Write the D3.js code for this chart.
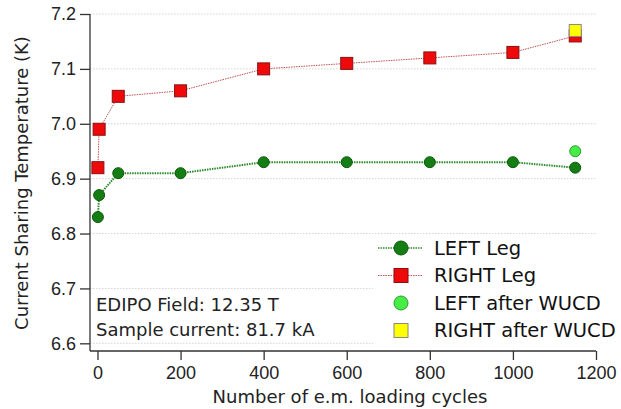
<!DOCTYPE html>
<html lang="en">
<head>
  <meta charset="UTF-8" />
  <title>Current Sharing Temperature vs loading cycles</title>
  <style>
    html, body { margin: 0; padding: 0; background: #fff; }
    svg { display: block; font-family: "DejaVu Sans", sans-serif; }
    .axis path, .axis line { stroke: #333; stroke-width: 1.3px; }
    .axis text { font-size: 18px; fill: #222; }
    .grid line { stroke: #d4d4d4; stroke-dasharray: 1.5 1.5; stroke-width: 1px; }
    .label { font-size: 18px; fill: #222; }
    .legend text { font-size: 19.5px; fill: #111; dominant-baseline: middle; }
  </style>
</head>
<body>
  <svg width="621" height="409"></svg>
  <script src="https://d3js.org/d3.v7.min.js"></script>
  <script>
    const cycles = [1, 4, 50, 200, 400, 600, 800, 1000, 1150];
    const leftLeg = [6.83, 6.87, 6.91, 6.91, 6.93, 6.93, 6.93, 6.93, 6.92];
    const rightLeg = [6.92, 6.99, 7.05, 7.06, 7.10, 7.11, 7.12, 7.13, 7.16];
    const afterCycles = [1150];
    const leftAfter = [6.95];
    const rightAfter = [7.17];
    const xTicks = [0, 200, 400, 600, 800, 1000, 1200];
    const yTicks = [6.6, 6.7, 6.8, 6.9, 7.0, 7.1, 7.2];
    const legendLabels = ["LEFT Leg", "RIGHT Leg", "LEFT after WUCD", "RIGHT after WUCD"];
    const notes = ["EDIPO Field: 12.35 T", "Sample current: 81.7 kA"];

    const svg = d3.select("svg");
    const plotL = 90, plotR = 596, plotT = 14, plotB = 351;

    const x = d3.scaleLinear().domain([-18, 1200]).range([plotL, plotR]);
    const y = d3.scaleLinear().domain([6.586, 7.2]).range([plotB, plotT]);

    // gridlines
    svg.append("g").attr("class", "grid")
      .selectAll("line").data(yTicks).join("line")
      .attr("x1", plotL).attr("x2", plotR)
      .attr("y1", d => y(d)).attr("y2", d => y(d));

    // axes
    svg.append("g").attr("class", "axis")
      .attr("transform", `translate(0,${plotB})`)
      .call(d3.axisBottom(x).tickValues(xTicks).tickFormat(d3.format("d")).tickSize(9).tickPadding(6).tickSizeOuter(0))
      .call(g => g.select(".domain").attr("d", `M${plotL},0H${plotR}`));

    svg.append("g").attr("class", "axis")
      .attr("transform", `translate(${plotL},0)`)
      .call(d3.axisLeft(y).tickValues(yTicks).tickFormat(d3.format(".1f")).tickSize(10).tickPadding(4).tickSizeOuter(0))
      .call(g => g.select(".domain").attr("d", `M0,${plotT}V${plotB}`));

    svg.append("text").attr("class", "label")
      .attr("transform", `translate(28,183) rotate(-90)`)
      .attr("text-anchor", "middle")
      .text("Current Sharing Temperature (K)");

    svg.append("text").attr("class", "label")
      .attr("x", 350).attr("y", 403)
      .attr("text-anchor", "middle")
      .text("Number of e.m. loading cycles");

    // notes
    svg.append("g").selectAll("text").data(notes).join("text")
      .attr("class", "label")
      .attr("x", 96).attr("y", (d, i) => 311 + i * 25)
      .text(d => d);

    const line = d3.line().x(d => x(d[0])).y(d => y(d[1]));
    const leftPts = cycles.map((c, i) => [c, leftLeg[i]]);
    const rightPts = cycles.map((c, i) => [c, rightLeg[i]]);

    svg.append("path").datum(rightPts)
      .attr("d", line).attr("fill", "none")
      .attr("stroke", "#c05050").attr("stroke-width", 1)
      .attr("stroke-dasharray", "1.5 1");
    svg.append("path").datum(leftPts)
      .attr("d", line).attr("fill", "none")
      .attr("stroke", "#2a8a2a").attr("stroke-width", 2)
      .attr("stroke-dasharray", "1.5 1");

    const sq = 12;
    svg.append("g").selectAll("rect").data(rightPts).join("rect")
      .attr("x", d => x(d[0]) - sq / 2).attr("y", d => y(d[1]) - sq / 2)
      .attr("width", sq).attr("height", sq)
      .attr("fill", "#ee0a0a").attr("stroke", "#8a1010").attr("stroke-width", 1);

    svg.append("g").selectAll("circle").data(leftPts).join("circle")
      .attr("cx", d => x(d[0])).attr("cy", d => y(d[1])).attr("r", 5.5)
      .attr("fill", "#147d14").attr("stroke", "#0b5a0b").attr("stroke-width", 1);

    svg.append("g").selectAll("circle").data(afterCycles.map((c, i) => [c, leftAfter[i]])).join("circle")
      .attr("cx", d => x(d[0])).attr("cy", d => y(d[1])).attr("r", 5.5)
      .attr("fill", "#44ee44").attr("stroke", "#339933").attr("stroke-width", 1);

    svg.append("g").selectAll("rect").data(afterCycles.map((c, i) => [c, rightAfter[i]])).join("rect")
      .attr("x", d => x(d[0]) - sq / 2).attr("y", d => y(d[1]) - sq / 2)
      .attr("width", sq).attr("height", sq)
      .attr("fill", "#ffff00").attr("stroke", "#888").attr("stroke-width", 1);

    // legend
    const lg = svg.append("g").attr("class", "legend");
    lg.append("rect").attr("x", 373).attr("y", 236).attr("width", 248).attr("height", 109).attr("fill", "#fff");
    const rowY = i => 248 + i * 27.5;
    const lx = 401;
    lg.append("line").attr("x1", 378).attr("x2", 423).attr("y1", rowY(0)).attr("y2", rowY(0))
      .attr("stroke", "#2a8a2a").attr("stroke-width", 1.5).attr("stroke-dasharray", "1.5 1");
    lg.append("line").attr("x1", 378).attr("x2", 423).attr("y1", rowY(1)).attr("y2", rowY(1))
      .attr("stroke", "#c05050").attr("stroke-width", 1).attr("stroke-dasharray", "1.5 1");
    lg.append("circle").attr("cx", lx).attr("cy", rowY(0)).attr("r", 7)
      .attr("fill", "#147d14").attr("stroke", "#0b5a0b");
    lg.append("rect").attr("x", lx - 7).attr("y", rowY(1) - 7).attr("width", 14).attr("height", 14)
      .attr("fill", "#ee0a0a").attr("stroke", "#8a1010");
    lg.append("circle").attr("cx", lx).attr("cy", rowY(2)).attr("r", 7)
      .attr("fill", "#44ee44").attr("stroke", "#339933");
    lg.append("rect").attr("x", lx - 7).attr("y", rowY(3) - 7).attr("width", 14).attr("height", 14)
      .attr("fill", "#ffff00").attr("stroke", "#888");
    lg.selectAll("text.lbl").data(legendLabels).join("text")
      .attr("class", "lbl")
      .attr("x", 434).attr("y", (d, i) => rowY(i) + 1)
      .text(d => d);
  </script>
</body>
</html>
